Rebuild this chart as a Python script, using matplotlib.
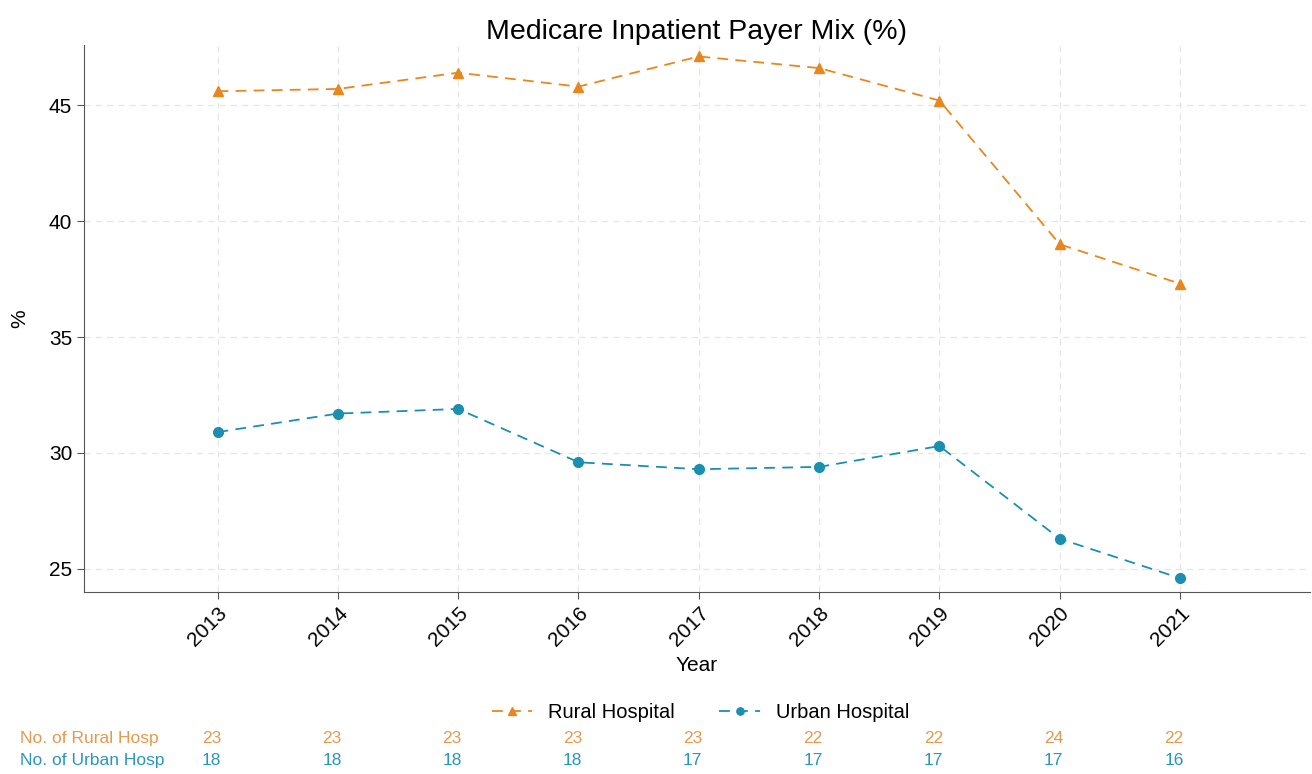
import matplotlib.pyplot as plt
import matplotlib.transforms as mtransforms

plt.rcParams['font.family'] = ['Liberation Sans', 'DejaVu Sans']

years = [2013, 2014, 2015, 2016, 2017, 2018, 2019, 2020, 2021]
rural_pct = [45.6, 45.7, 46.4, 45.8, 47.1, 46.6, 45.2, 39.0, 37.3]
urban_pct = [30.9, 31.7, 31.9, 29.6, 29.3, 29.4, 30.3, 26.3, 24.6]
rural_n = [23, 23, 23, 23, 23, 22, 22, 24, 22]
urban_n = [18, 18, 18, 18, 17, 17, 17, 17, 16]

rural_color = '#E8871E'
urban_color = '#1A8FB0'

fig = plt.figure(figsize=(13.12, 7.74), dpi=100)
ax = fig.add_axes([0.064, 0.235, 0.9345, 0.707])

ax.plot(years, rural_pct, '--', marker='^', color=rural_color, markersize=7,
        linewidth=1.3, dashes=(6, 4), label='Rural Hospital')
ax.plot(years, urban_pct, '--', marker='o', color=urban_color, markersize=7,
        linewidth=1.3, dashes=(6, 4), label='Urban Hospital')

ax.set_xlim(2011.89, 2022.08)
ax.set_ylim(24.0, 47.6)
ax.set_xticks(years)
ax.set_xticklabels([str(y) for y in years], rotation=45, ha='right',
                   rotation_mode='anchor', fontsize=15)
ax.set_yticks([25, 30, 35, 40, 45])
ax.tick_params(axis='y', labelsize=15)
ax.tick_params(length=5, color='#555555')
ax.grid(True, linestyle=(0, (5, 4)), color='#e6e6e6', linewidth=0.9)
for s in ['top', 'right']:
    ax.spines[s].set_visible(False)
for s in ['left', 'bottom']:
    ax.spines[s].set_color('#555555')

ax.set_title('Medicare Inpatient Payer Mix (%)', fontsize=20.5, pad=4)
ax.set_xlabel('Year', fontsize=15, labelpad=4)
ax.set_ylabel('%', fontsize=15, labelpad=14)

fig.legend(loc='center', bbox_to_anchor=(0.534, 0.079), ncol=2, frameon=False,
           fontsize=14.5, handlelength=2.0, columnspacing=2.2, markerscale=0.75)

# counts table under the plot
trans = mtransforms.blended_transform_factory(ax.transData, fig.transFigure)
fig.text(0.015, 0.046, 'No. of Rural Hosp', color='#E39A50', fontsize=12.5, va='center')
fig.text(0.015, 0.018, 'No. of Urban Hosp', color='#2A96BC', fontsize=12.5, va='center')
for yr, rn, un in zip(years, rural_n, urban_n):
    ax.text(yr - 0.05, 0.046, str(rn), transform=trans, color='#E39A50',
            fontsize=12.5, ha='center', va='center')
    ax.text(yr - 0.05, 0.018, str(un), transform=trans, color='#2A96BC',
            fontsize=12.5, ha='center', va='center')

fig.savefig('out.png', dpi=100)
